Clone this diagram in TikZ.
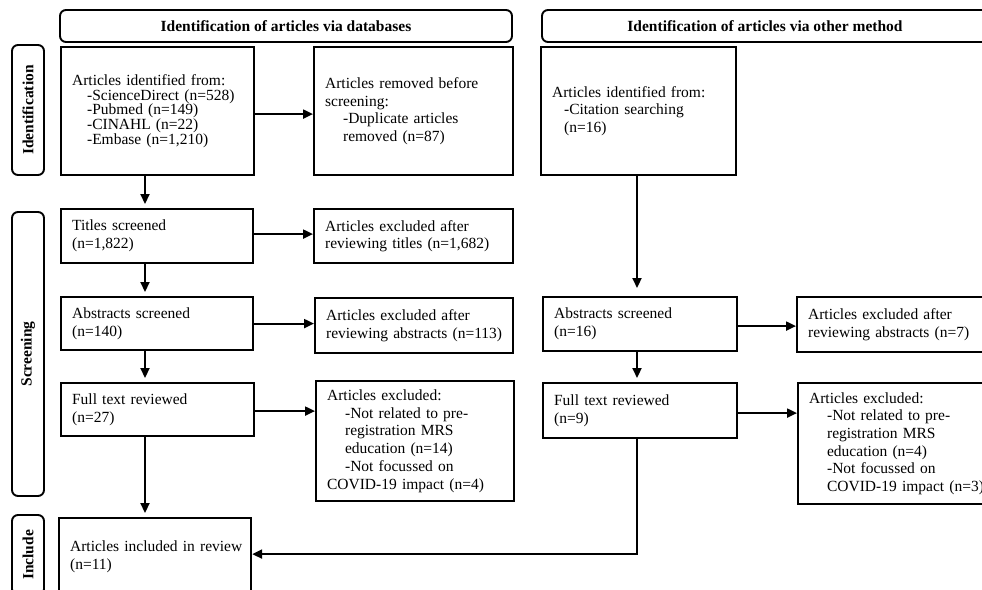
\documentclass[tikz,border=0pt]{standalone}
\usepackage{fontspec}
\setmainfont{Liberation Serif}
\usetikzlibrary{arrows.meta}
\begin{document}
\begin{tikzpicture}[x=1pt,y=-1pt,
  box/.style={draw, line width=2.2pt, inner xsep=11pt, inner ysep=2pt, align=left,
    anchor=north west, font=\fontsize{15.5}{17.7}\selectfont},
  tight/.style={font=\fontsize{15.5}{14.6}\selectfont},
  head/.style={draw, line width=1.9pt, rounded corners=6pt, minimum height=32pt,
    font=\fontsize{15.5}{18}\selectfont\bfseries},
  side/.style={draw, line width=1.9pt, rounded corners=6pt, minimum height=32pt, rotate=90,
    font=\fontsize{15.5}{18}\selectfont\bfseries},
  arr/.style={line width=2.2pt, -{Triangle[length=10pt,width=9pt]}}
]
\useasboundingbox (0,0) rectangle (982,589);
\clip (0,0) rectangle (982,589);

% headers
\node[head, minimum width=452pt] (h1) at (286,26) {Identification of articles via databases};
\node[head, minimum width=446pt] (h2) at (765,26) {Identification of articles via other method};

% side labels
\node[side, minimum width=130pt] (s1) at (28,110) {Identification};
\node[side, minimum width=284pt] (s2) at (28,354) {Screening};
\node[side, minimum width=80pt] (s3) at (28,555) {Include};

% boxes
\node[box, tight, minimum width=193pt, minimum height=128pt, text width=171pt] (A) at (60,46)
 {Articles identified from:\\
  \hspace*{15pt}\mbox{-ScienceDirect (n=528)}\\
  \hspace*{15pt}-Pubmed (n=149)\\
  \hspace*{15pt}-CINAHL (n=22)\\
  \hspace*{15pt}-Embase (n=1,210)};
\node[box, minimum width=199pt, minimum height=128pt, text width=177pt] (B) at (313,46)
 {\mbox{Articles removed before}\\
  screening:\\
  \hspace*{18pt}-Duplicate articles\\
  \hspace*{18pt}removed (n=87)};
\node[box, minimum width=195pt, minimum height=128pt, text width=173pt] (C) at (540,46)
 {Articles identified from:\\
  \hspace*{12pt}-Citation searching\\
  \hspace*{12pt}(n=16)};

\node[box, minimum width=192pt, minimum height=54pt, text width=170pt] (D) at (60,208)
 {Titles screened\\(n=1,822)};
\node[box, minimum width=199pt, minimum height=54pt, text width=177pt] (E) at (313,208)
 {Articles excluded after\\\mbox{reviewing titles (n=1,682)}};

\node[box, minimum width=192pt, minimum height=53pt, text width=170pt] (F) at (60,296)
 {Abstracts screened\\(n=140)};
\node[box, minimum width=198pt, minimum height=55pt, text width=176pt] (G) at (314,297)
 {Articles excluded after\\\mbox{reviewing abstracts (n=113)}};

\node[box, minimum width=193pt, minimum height=53pt, text width=171pt] (H) at (60,382)
 {Full text reviewed\\(n=27)};
\node[box, minimum width=198pt, minimum height=120pt, text width=176pt] (I) at (315,380)
 {Articles excluded:\\
  \hspace*{18pt}-Not related to pre-\\
  \hspace*{18pt}registration MRS\\
  \hspace*{18pt}education (n=14)\\
  \hspace*{18pt}-Not focussed on\\
  \mbox{COVID-19 impact (n=4)}};

\node[box, minimum width=192pt, minimum height=78pt, text width=170pt] (J) at (58,517)
 {\mbox{Articles included in review}\\(n=11)};

\node[box, minimum width=194pt, minimum height=54pt, text width=172pt] (K) at (542,296)
 {Abstracts screened\\(n=16)};
\node[box, minimum width=199pt, minimum height=55pt, text width=177pt] (L) at (796,296)
 {Articles excluded after\\\mbox{reviewing abstracts (n=7)}};

\node[box, minimum width=194pt, minimum height=55pt, text width=172pt] (M) at (542,382)
 {Full text reviewed\\(n=9)};
\node[box, minimum width=199pt, minimum height=121pt, text width=177pt] (N) at (797,382)
 {Articles excluded:\\
  \hspace*{18pt}-Not related to pre-\\
  \hspace*{18pt}registration MRS\\
  \hspace*{18pt}education (n=4)\\
  \hspace*{18pt}-Not focussed on\\
  \hspace*{18pt}\mbox{COVID-19 impact (n=3)}};

% column guides
\coordinate (cl) at (145,0);
\coordinate (cr) at (637,0);

% arrows
\draw[arr, shorten >=4pt] (A.south -| cl) -- (D.north -| cl);
\draw[arr, shorten >=4pt] (D.south -| cl) -- (F.north -| cl);
\draw[arr, shorten >=4pt] (F.south -| cl) -- (H.north -| cl);
\draw[arr, shorten >=4pt] (H.south -| cl) -- (J.north -| cl);

\draw[arr] ([yshift=-3pt]A.east) -- ([yshift=-3pt]A.east -| B.west);
\draw[arr] ([yshift=2pt]D.east) -- ([yshift=2pt]D.east -| E.west);
\draw[arr] (F.east) -- (F.east -| G.west);
\draw[arr] ([yshift=-1.5pt]H.east) -- ([yshift=-1.5pt]H.east -| I.west);

\draw[arr, shorten >=8pt] (C.south -| cr) -- (K.north -| cr);
\draw[arr, shorten >=4pt] (K.south -| cr) -- (M.north -| cr);
\draw[arr] ([yshift=-2pt]K.east) -- ([yshift=-2pt]K.east -| L.west);
\draw[arr] ([yshift=-2.5pt]M.east) -- ([yshift=-2.5pt]M.east -| N.west);

\draw[arr] (M.south -| cr) |- ([yshift=3pt]J.east);
\end{tikzpicture}
\end{document}
